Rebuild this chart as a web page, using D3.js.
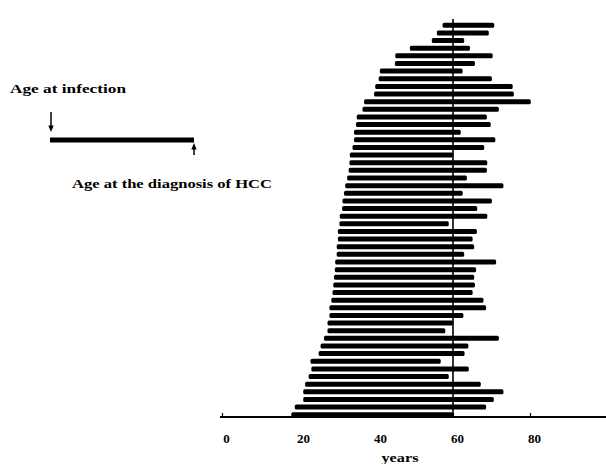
<!DOCTYPE html>
<html>
<head>
<meta charset="utf-8">
<script src="https://cdn.jsdelivr.net/npm/d3@7"></script>
<style>
  html, body { margin: 0; padding: 0; background: #fff; }
  svg { display: block; }
  text { font-family: "Liberation Serif", "Times New Roman", serif; fill: #000; font-weight: bold; }
</style>
</head>
<body>
<svg id="chart" width="606" height="464"></svg>
<script>
// Age at infection (years), one per patient, top to bottom
const infectionAge = [57.3, 55.8, 54.5, 48.8, 45.0, 44.9, 41.0, 40.7, 39.8, 39.5, 36.9, 36.5, 35.0, 34.8, 34.3, 34.3, 33.9, 33.2, 33.1, 32.9, 32.5, 32.0, 31.7, 31.3, 31.2, 30.6, 30.5, 30.1, 30.1, 29.8, 29.8, 29.4, 29.3, 29.1, 28.9, 28.7, 28.4, 27.9, 27.9, 27.4, 27.4, 26.5, 25.6, 25.1, 23.0, 23.2, 22.5, 21.6, 21.1, 21.1, 18.9, 18.0];
// Age at the diagnosis of HCC (years)
const hccAge = [70.7, 69.3, 62.9, 64.4, 70.3, 65.7, 62.5, 70.1, 75.5, 75.8, 80.2, 71.9, 68.8, 69.8, 62.0, 71.0, 68.1, 60.0, 68.9, 68.8, 63.6, 73.1, 62.5, 70.1, 66.3, 68.9, 58.9, 66.2, 65.1, 65.5, 62.9, 71.2, 66.0, 65.5, 65.7, 65.1, 67.9, 68.6, 62.7, 60.0, 58.0, 71.9, 64.0, 63.0, 56.8, 64.1, 58.9, 67.2, 73.1, 70.6, 68.6, 60.0];
const tickValues = [0, 20, 40, 60, 80];
const referenceAge = [60];
const axisTitle = "years";
const legendLabels = ["Age at infection", "Age at the diagnosis of HCC"];

const svg = d3.select("#chart");
const x = d3.scaleLinear().domain([0, 100]).range([222, 607]);
const patients = d3.range(infectionAge.length);
const y = d3.scalePoint().domain(patients).range([25.3, 414.7]);
const barH = 5;
const axisY = 417;

// bars
svg.append("g").selectAll("rect").data(patients).join("rect")
  .attr("x", i => x(infectionAge[i]))
  .attr("y", i => y(i) - barH / 2)
  .attr("width", i => x(hccAge[i]) - x(infectionAge[i]))
  .attr("height", barH)
  .attr("rx", 1.5)
  .attr("fill", "#000");

// vertical reference line at 60
svg.append("g").selectAll("line").data(referenceAge).join("line")
  .attr("x1", d => x(d)).attr("x2", d => x(d))
  .attr("y1", 19).attr("y2", axisY)
  .attr("stroke", "#000").attr("stroke-width", 1.6);

// axis
const axis = d3.axisBottom(x).tickValues(tickValues).tickSizeInner(-4).tickSizeOuter(0).tickPadding(0)
  .tickFormat(d3.format("d"));
const gx = svg.append("g").attr("transform", `translate(0,${axisY})`).call(axis);
gx.select(".domain").attr("stroke-width", 2).attr("d", `M${x(0) - 2},0H606`);
gx.selectAll(".tick line").attr("stroke-width", 1.2);
gx.selectAll(".tick text")
  .attr("y", 26).attr("dy", 0).attr("dx", 4)
  .style("font-family", "Liberation Serif, serif")
  .style("font-weight", "bold")
  .style("font-size", "13px");

svg.append("text").attr("x", 400).attr("y", 462)
  .attr("text-anchor", "middle").style("font-size", "13px")
  .attr("textLength", 37).attr("lengthAdjust", "spacingAndGlyphs")
  .text(axisTitle);

// legend
svg.append("text").attr("x", 10).attr("y", 93).style("font-size", "13px")
  .attr("textLength", 116).attr("lengthAdjust", "spacingAndGlyphs")
  .text(legendLabels[0]);
svg.append("text").attr("x", 72).attr("y", 188).style("font-size", "13px")
  .attr("textLength", 200).attr("lengthAdjust", "spacingAndGlyphs")
  .text(legendLabels[1]);

const lg = svg.append("g");
lg.append("rect").attr("x", 50).attr("y", 137.5).attr("width", 144).attr("height", 5).attr("fill", "#000");
// down arrow
lg.append("line").attr("x1", 51).attr("x2", 51).attr("y1", 112).attr("y2", 128).attr("stroke", "#000").attr("stroke-width", 1.5);
lg.append("path").attr("d", "M48.3,125.5 L51,132 L53.7,125.5 Z").attr("fill", "#000");
// up arrow
lg.append("line").attr("x1", 194).attr("x2", 194).attr("y1", 155).attr("y2", 147).attr("stroke", "#000").attr("stroke-width", 1.5);
lg.append("path").attr("d", "M191.3,149.5 L194,143 L196.7,149.5 Z").attr("fill", "#000");
</script>
</body>
</html>
